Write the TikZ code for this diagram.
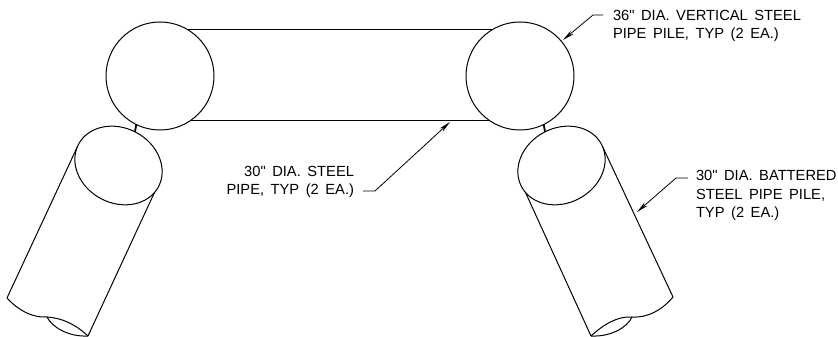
\documentclass[tikz,border=0pt]{standalone}
\usepackage{fontspec}
\newfontfamily\notefont[WordSpace=1.6]{Liberation Sans}
\usetikzlibrary{arrows.meta,shapes.geometric}
\begin{document}
\begin{tikzpicture}[x=1pt, y=1pt, line width=1pt, pile/.style={circle, draw, inner sep=0, outer sep=0, minimum size=108pt}, pipe end/.style={ellipse, draw, inner sep=0, outer sep=0, minimum width=90.5pt, minimum height=75pt}, leader/.style={line width=0.8pt, -{Stealth[length=12pt,width=4.5pt]}}, note/.style={inner sep=0, outer sep=0, font=\notefont\fontsize{14.7}{18.5}\selectfont}]
\useasboundingbox (0,0) rectangle (838,337);
\node[pile] (pileL) at (160,261) {};
\node[pile] (pileR) at (520,261) {};
\node[pipe end, rotate=-28] (capL) at (118.5,171.5) {};
\node[pipe end, rotate=28] (capR) at (561.5,171.5) {};
\coordinate (endL1) at (7,39);
\coordinate (endL2) at (47,20);
\coordinate (endL3) at (88,1);
\coordinate (endR1) at (673,40);
\coordinate (endR2) at (632,20);
\coordinate (endR3) at (591,1);
\node[note, anchor=west, align=left] (noteA) at (613,311) {36" DIA. VERTICAL STEEL\\PIPE PILE, TYP (2 EA.)};
\node[note, anchor=east, align=right] (noteB) at (354,155) {30" DIA. STEEL\\PIPE, TYP (2 EA.)};
\node[note, anchor=west, align=left] (noteC) at (696,141.5) {30" DIA. BATTERED\\STEEL PIPE PILE,\\TYP (2 EA.)};
\coordinate (tailA) at (603,322);
\coordinate (bendA) at (593,322);
\coordinate (tipA) at (563,297);
\coordinate (tailB) at (363,146);
\coordinate (bendB) at (375,146);
\coordinate (tipB) at (450,215);
\coordinate (tailC) at (688,159);
\coordinate (bendC) at (676,159);
\coordinate (tipC) at (637,125);
\path
(pileL.59) edge (pileR.121)
(pileL.-55) edge (pileR.-125)
(capL.184) edge (endL1)
(capL.-9) edge (endL3)
(capR.-4) edge (endR1)
(capR.189) edge (endR3);
\draw[line width=1.8pt] (pileL.-116) -- (capL.92);
\draw[line width=1.8pt] (pileR.-64) -- (capR.88);
% broken pipe ends
\draw (endL1) .. controls (18,27) and (32,19) .. (endL2) .. controls (62,19) and (75,13) .. (endL3);
\draw (endL2) .. controls (52,10) and (68,0) .. (endL3);
\draw (endR1) .. controls (662,27) and (648,19) .. (endR2) .. controls (618,21) and (604,13) .. (endR3);
\draw (endR2) .. controls (627,9) and (610,0) .. (endR3);
% leaders
\draw[leader] (tailA) -- (bendA) -- (tipA);
\draw[leader] (tailB) -- (bendB) -- (tipB);
\draw[leader] (tailC) -- (bendC) -- (tipC);
\end{tikzpicture}
\end{document}
